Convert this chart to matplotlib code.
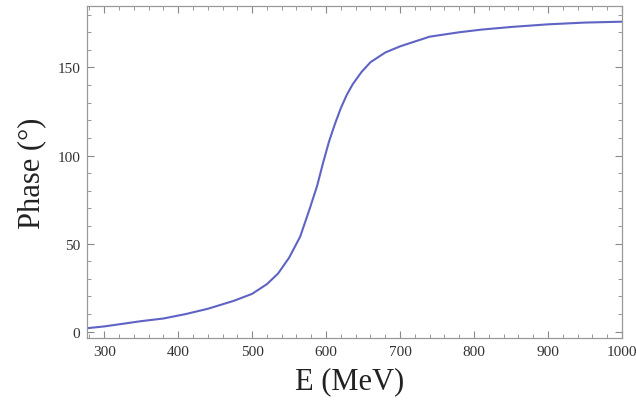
import matplotlib
matplotlib.use("Agg")
import matplotlib.pyplot as plt
from matplotlib.ticker import MultipleLocator

energy = [277, 300, 325, 350, 380, 410, 440, 475, 500, 520, 535, 550, 565, 578, 588,
          596, 604, 612, 620, 628, 636, 648, 660, 680, 700, 740, 780, 810, 850, 900, 950, 1000]
phase = [2, 3, 4.5, 6, 7.5, 10, 13, 17.5, 21.5, 27, 33, 42, 54, 70, 83,
         96, 108, 118, 127, 134.5, 140.5, 147.5, 153, 158.5, 162, 167.5, 170, 171.5, 173, 174.5, 175.5, 176]

x_ticks = [300, 400, 500, 600, 700, 800, 900, 1000]
y_ticks = [0, 50, 100, 150]

plt.rcParams['font.family'] = ['Liberation Serif', 'DejaVu Serif']

fig = plt.figure(figsize=(6.36, 4.02), dpi=100)
ax = fig.add_axes([0.137, 0.157, 0.841, 0.826])
ax.plot(energy, phase, color='#5f64c4', lw=1.5)

ax.set_xlim(277, 1000)
ax.set_ylim(-3.5, 185)
ax.set_xticks(x_ticks)
ax.set_yticks(y_ticks)
ax.xaxis.set_minor_locator(MultipleLocator(20))
ax.yaxis.set_minor_locator(MultipleLocator(10))
ax.tick_params(which='both', direction='in', top=True, right=True, colors='#888888',
               labelcolor='#333333', labelsize=11)
ax.tick_params(which='major', length=5, width=0.8, pad=5)
ax.tick_params(which='minor', length=3, width=0.6)
for s in ax.spines.values():
    s.set_color('#999999')
    s.set_linewidth(0.9)

ax.set_xlabel('E (MeV)', fontsize=22, color='#222222')
ax.set_ylabel('Phase (°)', fontsize=22, color='#222222', labelpad=8)
ax.xaxis.set_label_coords(0.49, -0.085)

fig.savefig('out.png', dpi=100)
